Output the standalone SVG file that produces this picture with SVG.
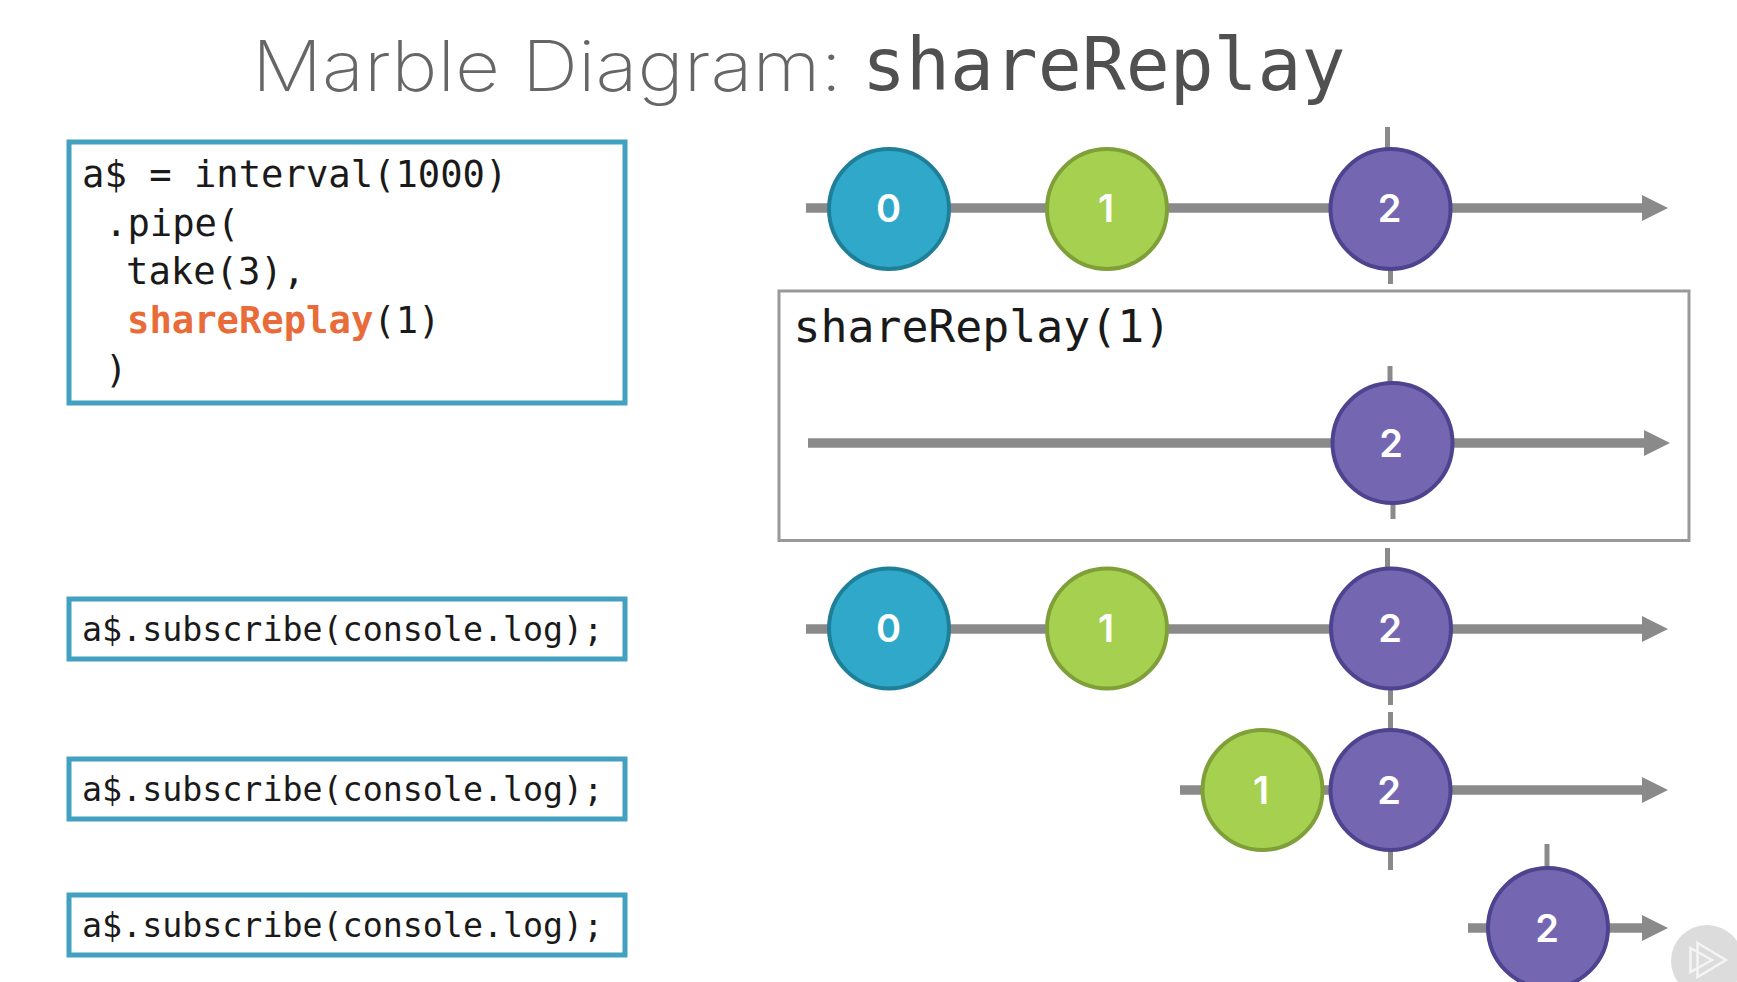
<svg xmlns="http://www.w3.org/2000/svg" width="1737" height="982" viewBox="0 0 1737 982">
<defs>
<style>
.mono{font-family:"DejaVu Sans Mono","Liberation Mono",monospace;fill:#1a1a1a}
.code{font-size:37.2px}
.sub{font-size:33.3px}
.box{fill:#fff;stroke:#42a1c1;stroke-width:5}
.axis{stroke:#8a8a8a;stroke-width:9.500;fill:none}
.tick{stroke:#8a8a8a;stroke-width:5;fill:none}
.head{fill:#8a8a8a}
.digit{font-family:Inter,"Open Sans",sans-serif;font-weight:600;font-size:38px;fill:#fff;text-anchor:middle}
.m0{fill:#2fa8c9;stroke:#1f7f98;stroke-width:4}
.m1{fill:#a6d04f;stroke:#7f9f38;stroke-width:4}
.m2{fill:#7566b1;stroke:#4d438e;stroke-width:4}
.logo{fill:none;stroke:#f4f4f4;stroke-width:2.500}
</style>
<marker id="arrow" viewBox="0 0 26 26" refX="0" refY="13" markerWidth="26" markerHeight="26" markerUnits="userSpaceOnUse" orient="auto"><path class="head" d="M0 0L26 13L0 26Z"/></marker>
</defs>
<rect width="1737" height="982" fill="#fff"/>
<g id="title">
<text x="252" y="91" font-family="Inter,Lato,sans-serif" font-weight="200" font-size="70" fill="#666" textLength="590" lengthAdjust="spacingAndGlyphs">Marble Diagram:</text>
<text x="862" y="90" font-family="DejaVu Sans Mono,monospace" font-size="73" fill="#505050">shareReplay</text>
</g>
<g id="code-source">
<rect class="box" x="69" y="142" width="556" height="261"/>
<text class="mono code" x="82" y="187">a$ = interval(1000)</text>
<text class="mono code" x="105" y="236">.pipe(</text>
<text class="mono code" x="126" y="284">take(3),</text>
<text class="mono code" x="127" y="333"><tspan font-weight="700" fill="#e96b39">shareReplay</tspan>(1)</text>
<text class="mono code" x="105" y="382">)</text>
</g>
<g id="subscribe-1"><rect class="box" x="69" y="599" width="556" height="60"/><text class="mono sub" x="82" y="641">a$.subscribe(console.log);</text></g>
<g id="subscribe-2"><rect class="box" x="69" y="759" width="556" height="60"/><text class="mono sub" x="82" y="801">a$.subscribe(console.log);</text></g>
<g id="subscribe-3"><rect class="box" x="69" y="895" width="556" height="60"/><text class="mono sub" x="82" y="937">a$.subscribe(console.log);</text></g>
<g id="operator-box"><rect x="779" y="291" width="910" height="249.500" fill="#fff" stroke="#999" stroke-width="3"/><text class="mono" x="793.500" y="342" font-size="44.800">shareReplay(1)</text></g>
<g id="connectors">
<path class="axis" d="M806 208H1642" marker-end="url(#arrow)"/>
<path class="tick" d="M1387.500 127V160M1390.500 260V284"/>
<path class="axis" d="M808 443H1644" marker-end="url(#arrow)"/>
<path class="tick" d="M1390 366V400M1393 490V519"/>
<path class="axis" d="M806 629H1642" marker-end="url(#arrow)"/>
<path class="tick" d="M1387.500 548V580M1390.500 680V705"/>
<path class="axis" d="M1180 790H1642" marker-end="url(#arrow)"/>
<path class="tick" d="M1390.500 712V745M1390.500 840V870"/>
<path class="axis" d="M1468 928H1642" marker-end="url(#arrow)"/>
<path class="tick" d="M1547 844V880"/>
</g>
<g id="row1-m0"><circle class="m0" cx="889" cy="209" r="60"/><text class="digit" x="888.500" y="222">0</text></g>
<g id="row1-m1"><circle class="m1" cx="1107" cy="209" r="60"/><text class="digit" x="1106" y="222">1</text></g>
<g id="row1-m2"><circle class="m2" cx="1390.500" cy="209" r="60"/><text class="digit" x="1389.500" y="222">2</text></g>
<g id="row2-m2"><circle class="m2" cx="1392.500" cy="443" r="60"/><text class="digit" x="1391" y="457">2</text></g>
<g id="row3-m0"><circle class="m0" cx="889" cy="628.500" r="60"/><text class="digit" x="888.500" y="642">0</text></g>
<g id="row3-m1"><circle class="m1" cx="1107" cy="628.500" r="60"/><text class="digit" x="1106" y="642">1</text></g>
<g id="row3-m2"><circle class="m2" cx="1391" cy="628.500" r="60"/><text class="digit" x="1390" y="642">2</text></g>
<g id="row4-m1"><circle class="m1" cx="1262.500" cy="790" r="60"/><text class="digit" x="1261" y="804">1</text></g>
<g id="row4-m2"><circle class="m2" cx="1390.500" cy="790" r="60"/><text class="digit" x="1389" y="804">2</text></g>
<g id="row5-m2"><circle class="m2" cx="1548" cy="928" r="60"/><text class="digit" x="1547" y="942">2</text></g>
<g id="play-badge"><circle cx="1707" cy="961" r="36" fill="#dcdcdc"/><path class="logo" d="M1690.500 948L1712 960L1690.500 972Z"/><path class="logo" d="M1697.500 943L1726 960L1697.500 977Z"/></g>
</svg>
